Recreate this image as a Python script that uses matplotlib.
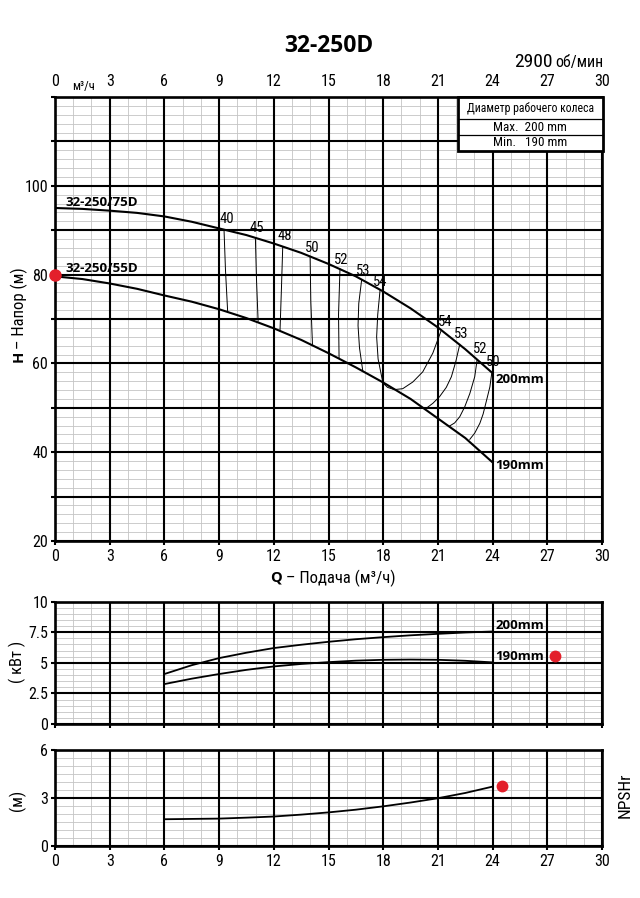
import matplotlib
matplotlib.use('Agg')
import numpy as np
import matplotlib.pyplot as plt
from matplotlib.patches import Rectangle

FONT = ['Roboto Condensed', 'PT Sans Narrow', 'Open Sans', 'DejaVu Sans']
BOLD = ['Open Sans', 'DejaVu Sans']
plt.rcParams['font.family'] = FONT

# ---------------- data ----------------
q_head = [0, 1.5, 3, 4.5, 6, 7.5, 9, 10.5, 12, 13.5, 15, 16.5, 18, 19.5, 21, 22.5, 24]
h_200 = [95.0, 94.8, 94.4, 93.9, 93.1, 91.9, 90.4, 88.9, 87.0, 84.9, 82.4, 79.6, 76.2, 72.4, 68.1, 63.2, 57.8]
h_190 = [79.6, 79.0, 78.0, 76.8, 75.3, 73.9, 72.2, 70.2, 67.9, 65.3, 62.3, 59.1, 55.7, 52.0, 47.6, 43.2, 37.7]

# efficiency iso-lines
eff_labels = ['40', '45', '48', '50', '52', '53', '54', '54', '53', '52', '50']
eff_q = [
    [9.27, 9.35, 9.47],
    [10.99, 11.05, 11.14],
    [12.49, 12.42, 12.34],
    [13.99, 14.03, 14.12],
    [15.63, 15.55, 15.58],
    [16.82, 16.66, 16.62, 16.70, 16.88],
    [17.83, 17.70, 17.64, 17.72, 17.98],
    [17.98, 18.24, 18.6, 19.07, 19.62, 20.17, 20.72, 21.18],
    [22.2, 21.98, 21.74, 21.46, 21.09, 20.72, 20.36],
    [23.15, 23.02, 22.75, 22.47, 22.2, 21.92, 21.64],
    [23.95, 23.85, 23.67, 23.48, 23.3, 23.02, 22.75],
]
eff_h = [
    [90.1, 81.0, 71.6],
    [88.3, 79.0, 69.5],
    [86.3, 77.0, 67.3],
    [84.1, 74.0, 64.3],
    [81.3, 71.0, 61.1],
    [78.9, 73.5, 68.5, 63.5, 58.3],
    [76.6, 71.0, 66.0, 61.0, 55.7],
    [55.6, 54.6, 54.1, 54.3, 55.8, 58.1, 62.3, 67.4],
    [64.3, 60.4, 57.0, 54.6, 52.5, 51.0, 49.9],
    [60.8, 57.0, 53.2, 50.2, 48.0, 46.6, 45.9],
    [57.7, 54.7, 51.7, 48.6, 46.5, 44.3, 42.9],
]
eff_lab_q = [9.45, 11.05, 12.6, 14.1, 15.7, 16.9, 17.85, 21.4, 22.3, 23.3, 24.05]
eff_lab_h = [92.5, 90.5, 88.6, 86.1, 83.2, 80.7, 78.3, 69.4, 66.6, 63.2, 60.3]

q_pow = [6, 7.5, 9, 10.5, 12, 13.5, 15, 16.5, 18, 19.5, 21, 22.5, 24]
p_200 = [4.08, 4.8, 5.38, 5.82, 6.2, 6.47, 6.71, 6.92, 7.09, 7.24, 7.36, 7.47, 7.55]
p_190 = [3.26, 3.7, 4.08, 4.42, 4.7, 4.9, 5.05, 5.17, 5.24, 5.26, 5.24, 5.16, 5.03]

q_npsh = [6, 7.5, 9, 10.5, 12, 13.5, 15, 16.5, 18, 19.5, 21, 22.5, 24]
npsh = [1.65, 1.67, 1.69, 1.75, 1.82, 1.94, 2.08, 2.25, 2.46, 2.7, 2.97, 3.3, 3.7]

x_ticks = [0, 3, 6, 9, 12, 15, 18, 21, 24, 27, 30]
h_ticks = [20, 30, 40, 50, 60, 70, 80, 90, 100, 110, 120]
h_tick_labels = ['20', '', '40', '', '60', '', '80', '', '100', '', '']
p_ticks = [0, 2.5, 5, 7.5, 10]
p_tick_labels = ['0', '2.5', '5', '7.5', '10']
n_ticks = [0, 3, 6]

# ---------------- layout ----------------
W, H = 640, 898
fig = plt.figure(figsize=(W / 100, H / 100), dpi=100)


def rect(left, top, right, bottom):
    return [left / W, 1 - bottom / H, (right - left) / W, (bottom - top) / H]


ax = fig.add_axes(rect(55, 97, 602, 541))
axp = fig.add_axes(rect(55, 601.5, 602, 724))
axn = fig.add_axes(rect(55, 750, 602, 845.5))

RED = '#e3202b'
GRID_MINOR = '#c4c4c4'


def style(a, yticks, ymin_step, ylim):
    a.set_xlim(0, 30)
    a.set_ylim(*ylim)
    for v in np.arange(0, 30.001, 1):
        a.axvline(v, color=GRID_MINOR, lw=0.6, zorder=0.5)
    for v in np.arange(ylim[0], ylim[1] + 1e-6, ymin_step):
        a.axhline(v, color=GRID_MINOR, lw=0.6, zorder=0.5)
    for v in x_ticks:
        a.axvline(v, color='black', lw=1.5, zorder=1)
    for v in yticks:
        a.axhline(v, color='black', lw=1.5, zorder=1)
    for s in a.spines.values():
        s.set_linewidth(1.9)
        s.set_zorder(6)
    a.set_xticks(x_ticks)
    a.tick_params(which='major', direction='out', length=3, width=1.5,
                  labelsize=11.5, pad=2)
    a.minorticks_off()


style(ax, h_ticks, 2, (20, 120))
style(axp, p_ticks, 0.5, (0, 10))
style(axn, n_ticks, 0.5, (0, 6))

ax.set_yticks(h_ticks, h_tick_labels)
ax.tick_params(axis='x', which='major', top=False, labeltop=True, pad=3)
axp.set_yticks(p_ticks, p_tick_labels)
axp.tick_params(axis='x', labelbottom=False)
axn.set_yticks(n_ticks)
axn.tick_params(axis='x', pad=3)

# ---------------- head chart ----------------
ax.plot(q_head, h_200, color='black', lw=1.5, zorder=4, solid_capstyle='round')
ax.plot(q_head, h_190, color='black', lw=1.5, zorder=4, solid_capstyle='round')
for qs, hs in zip(eff_q, eff_h):
    ax.plot(qs, hs, color='black', lw=0.7, zorder=3)
for lab, lq, lh in zip(eff_labels, eff_lab_q, eff_lab_h):
    ax.text(lq, lh, lab, fontsize=10.5, ha='center', va='center', zorder=5)
ax.plot([0], [80], 'o', color=RED, ms=8, clip_on=False, zorder=7)

for txt, tq, th in [('32-250/75D', 0.55, 96.3), ('32-250/55D', 0.55, 81.4),
                    ('200mm', 24.15, 56.4), ('190mm', 24.15, 36.9)]:
    ax.text(tq, th, txt, family=BOLD, fontweight='bold', fontsize=9.5,
            ha='left', va='center', zorder=5)

ax.text(1.55, 122.3, 'м³/ч', fontsize=9, ha='center', va='center', clip_on=False)

# diameter box
bx0, bx1 = 22.1, 30.05
by0, by1 = 107.95, 120
ax.add_patch(Rectangle((bx0, by0), bx1 - bx0, by1 - by0, facecolor='white',
                       edgecolor='black', lw=2.0, zorder=8, clip_on=False))
ax.plot([bx0, bx1], [115.05, 115.05], color='black', lw=0.9, zorder=9, clip_on=False)
ax.plot([bx0, bx1], [111.45, 111.45], color='black', lw=0.9, zorder=9, clip_on=False)
bxc = (bx0 + bx1) / 2
ax.text(bxc, 117.45, 'Диаметр рабочего колеса', fontsize=8.5, ha='center', va='center', zorder=10)
ax.text(bxc, 113.2, 'Max.  200 mm', fontsize=9.5, ha='center', va='center', zorder=10)
ax.text(bxc, 109.7, 'Min.   190 mm', fontsize=9.5, ha='center', va='center', zorder=10)

# ---------------- power chart ----------------
axp.plot(q_pow, p_200, color='black', lw=1.3, zorder=4)
axp.plot(q_pow, p_190, color='black', lw=1.3, zorder=4)
axp.plot([q_pow[0], q_pow[0]], [p_190[0], p_200[0]], color='black', lw=1.3, zorder=4)
axp.text(24.15, 8.05, '200mm', family=BOLD, fontweight='bold', fontsize=9.5,
         ha='left', va='center', zorder=5)
axp.text(24.15, 5.5, '190mm', family=BOLD, fontweight='bold', fontsize=9.5,
         ha='left', va='center', zorder=5)
axp.plot([27.4], [5.58], 'o', color=RED, ms=7.5, zorder=7)

# ---------------- NPSH chart ----------------
axn.plot(q_npsh, npsh, color='black', lw=1.3, zorder=4)
axn.plot([24.5], [3.73], 'o', color=RED, ms=7.5, zorder=7)

# ---------------- figure texts ----------------
fig.text(329 / W, 1 - 45.5 / H, '32-250D', family=BOLD, fontweight='bold',
         fontsize=16.5, ha='center', va='center')
fig.text(514 / W, 1 - 67 / H, '2900', fontsize=14, ha='left', va='baseline')
fig.text(555 / W, 1 - 67 / H, 'об/мин', fontsize=11.5, ha='left', va='baseline')

fig.text(270 / W, 1 - 578 / H, 'Q', family=BOLD, fontweight='bold', fontsize=10.5,
         ha='left', va='center')
fig.text(286 / W, 1 - 578 / H, '– Подача (м³/ч)', fontsize=12, ha='left', va='center')

fig.text(19 / W, 1 - 362 / H, 'H', family=BOLD, fontweight='bold', fontsize=10.5,
         ha='left', va='center', rotation=90, rotation_mode='anchor')
fig.text(19 / W, 1 - 349 / H, '– Напор (м)', fontsize=12, ha='left', va='center',
         rotation=90, rotation_mode='anchor')

fig.text(17 / W, 1 - 662 / H, '( кВт )', fontsize=12, ha='center', va='center', rotation=90)
fig.text(17 / W, 1 - 800 / H, '(м)', fontsize=12, ha='center', va='center', rotation=90)
fig.text(625 / W, 1 - 795 / H, 'NPSHr', fontsize=12.5, ha='center', va='center', rotation=90)

fig.savefig('out.png', dpi=100, facecolor='white')
